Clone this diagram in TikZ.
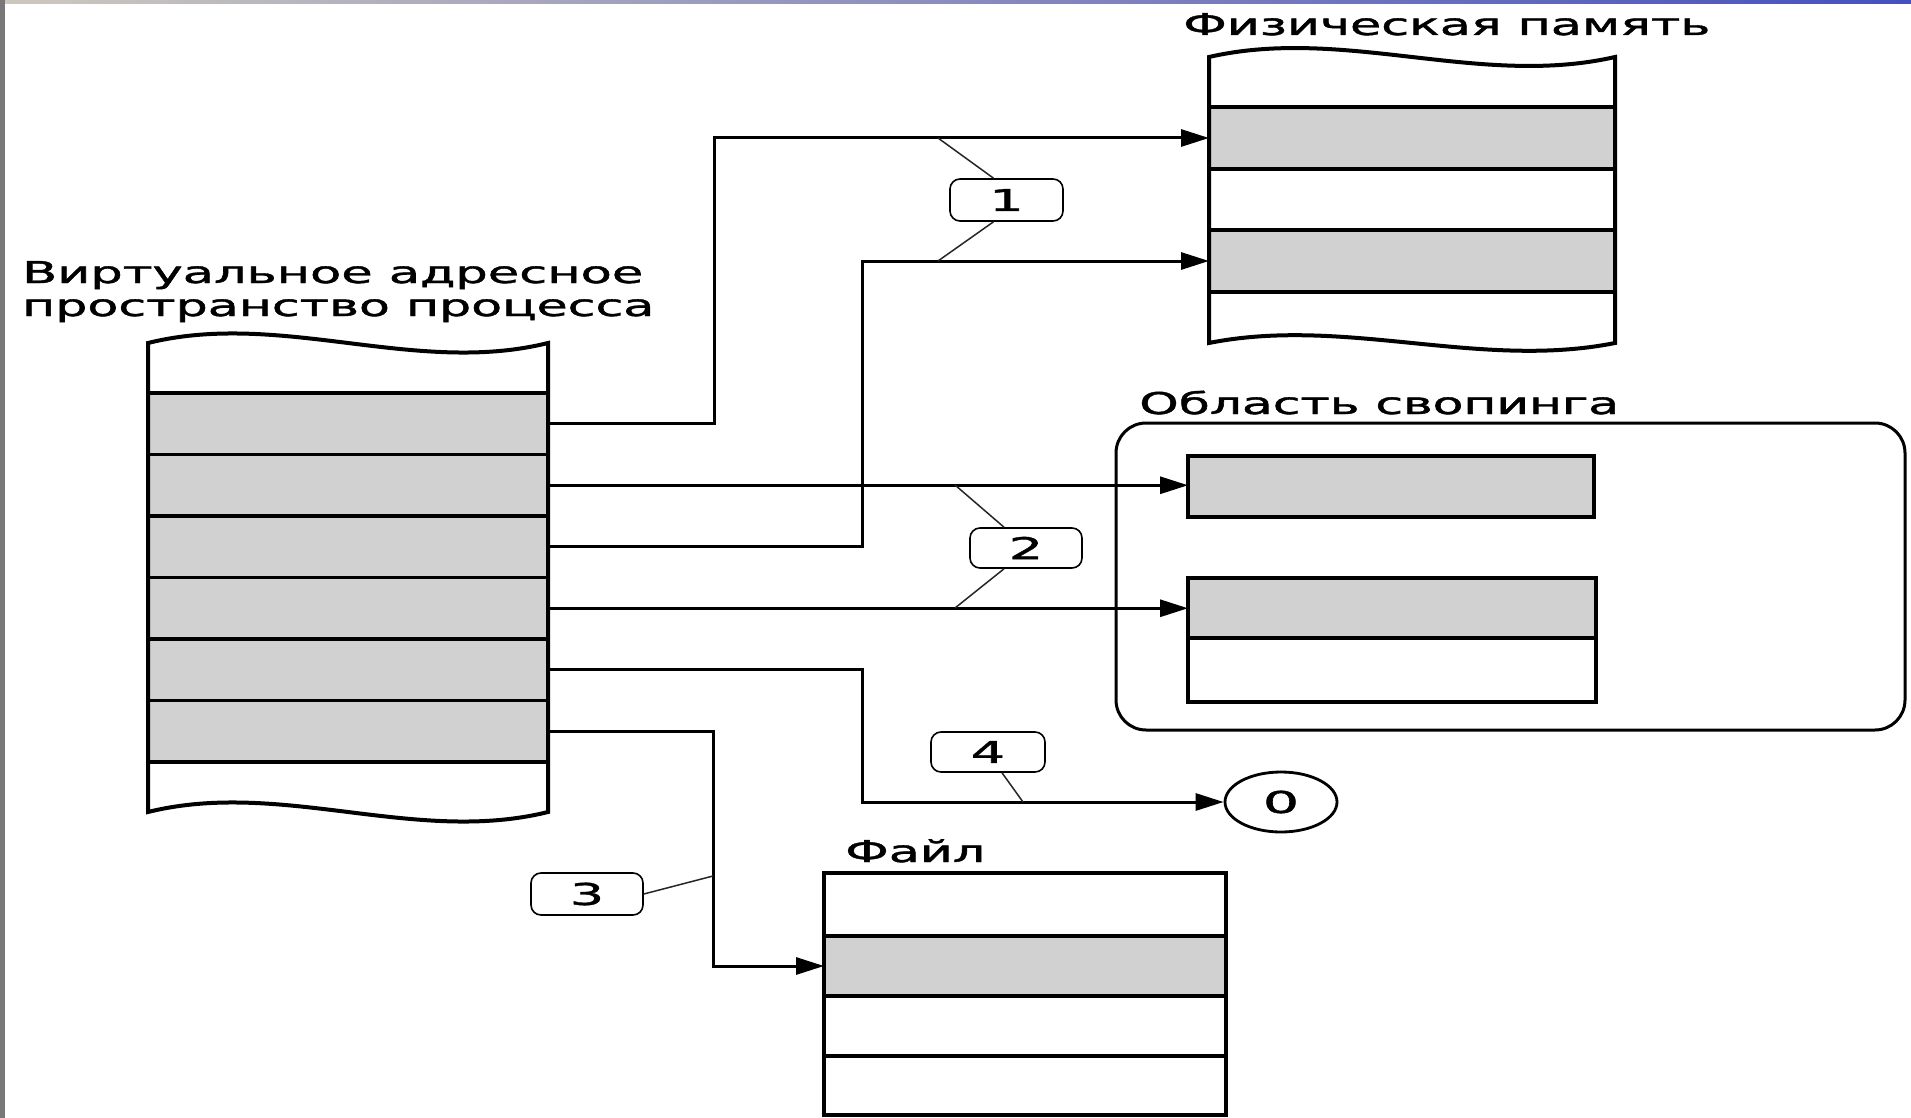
\documentclass[tikz,border=0pt]{standalone}
\usepackage{fontspec}
\setmainfont{DejaVu Sans}
\newfontfamily\lblfont{DejaVu Sans}[FakeBold=1.2,AutoFakeBold=1.2]
\usepackage{graphicx}
\usetikzlibrary{arrows.meta,shapes.geometric}
\definecolor{cellgray}{gray}{0.82}
\definecolor{barl}{RGB}{205,200,190}
\definecolor{barr}{RGB}{70,80,190}
\definecolor{stripgray}{RGB}{120,120,120}
\begin{document}
\begin{tikzpicture}[x=1pt,y=-1pt,
  colborder/.style={line width=4pt, line join=miter},
  rowcell/.style={draw, line width=3.3pt, inner sep=0pt, outer sep=0pt, anchor=north west},
  graycell/.style={rowcell, fill=cellgray},
  conn/.style={line width=3pt, -{Triangle[length=28pt,width=17pt]}},
  leader/.style={line width=1.5pt, black!85},
  numtag/.style={draw, line width=1.6pt, rounded corners=10pt, inner sep=0pt, fill=white, font=\lblfont\fontsize{30}{30}\selectfont\bfseries},
  lbl/.style={anchor=base west, inner sep=0pt, font=\lblfont\fontsize{30}{33}\selectfont\bfseries},
]
\useasboundingbox (0,0) rectangle (1911,1118);
\fill[white] (0,0) rectangle (1911,1118);
\shade[left color=barl, right color=barr] (0,0) rectangle (1911,4);
\fill[stripgray] (0,0) rectangle (5,1118);

% ---- virtual address space
\foreach \i/\y in {1/393,2/454.5,3/516,4/577.5,5/639,6/700.5}
  \node[graycell, minimum width=400pt, minimum height=61.5pt] (v\i) at (148,\y) {};
\draw[colborder] (148,343) .. controls (281.3,310) and (414.7,376) .. (548,343)
  -- (548,812) .. controls (414.7,845) and (281.3,779) .. (148,812) -- cycle;
\node[lbl] (tv1) at (22,283) {\resizebox{621pt}{\height}{Виртуальное адресное}};
\node[lbl] (tv2) at (22,316) {\resizebox{632pt}{\height}{пространство процесса}};

% ---- physical memory
\node[graycell, minimum width=406pt, minimum height=62pt] (pg1) at (1209,107) {};
\node[rowcell,  minimum width=406pt, minimum height=61pt] (pw)  at (1209,169) {};
\node[graycell, minimum width=406pt, minimum height=62pt] (pg2) at (1209,230) {};
\draw[colborder] (1209,57) .. controls (1344.3,26) and (1479.7,88) .. (1615,57)
  -- (1615,343) .. controls (1479.7,370) and (1344.3,316) .. (1209,343) -- cycle;
\node[lbl] (tp) at (1183,35) {\resizebox{527pt}{\height}{Физическая память}};

% ---- swap area
\draw[line width=3pt, rounded corners=30pt] (1116,423) rectangle (1905,730);
\node[lbl] (ts) at (1139,414) {\resizebox{480pt}{\height}{Область свопинга}};
\node[graycell, minimum width=406pt, minimum height=61pt] (s1) at (1188,456) {};
\draw[colborder] (1188,456) rectangle (1594,517);
\node[graycell, minimum width=408pt, minimum height=60pt] (s2a) at (1188,578) {};
\node[rowcell,  minimum width=408pt, minimum height=64pt] (s2b) at (1188,638) {};
\draw[colborder] (1188,578) rectangle (1596,702);

% ---- file
\node[rowcell,  minimum width=402pt, minimum height=63pt] (f1) at (824,873) {};
\node[graycell, minimum width=402pt, minimum height=60pt] (f2) at (824,936) {};
\node[rowcell,  minimum width=402pt, minimum height=60pt] (f3) at (824,996) {};
\node[rowcell,  minimum width=402pt, minimum height=59pt] (f4) at (824,1056) {};
\draw[colborder] (824,873) rectangle (1226,1115);
\node[lbl] (tf) at (845,862) {\resizebox{140pt}{\height}{Файл}};

% ---- zero
\node[ellipse, draw, line width=2.8pt, minimum width=112pt, minimum height=60pt, inner sep=0pt,
  font=\lblfont\fontsize{30}{30}\selectfont\bfseries] (zero) at (1281,802) {\scalebox{1.9}[1]{0}};

% ---- connectors
\draw[conn] (v1.east) -- ++(166,0) |- (pg1.west);
\draw[conn] (v2.east) -- (v2.east -| s1.west);
\draw[conn] (v3.east) -- ++(314,0) |- (pg2.west);
\draw[conn] (v4.east) -- (v4.east -| s2a.west);
\draw[conn] (v5.east) -- ++(314,0) |- (zero.west);
\draw[conn] (v6.east) -- ++(165,0) |- (f2.west);

% ---- number tags
\node[numtag, minimum width=113pt, minimum height=42pt] (L1) at (1006.5,200) {\scalebox{1.8}[1]{1}};
\node[numtag, minimum width=112pt, minimum height=40pt] (L2) at (1026,548) {\scalebox{1.8}[1]{2}};
\node[numtag, minimum width=112pt, minimum height=42pt] (L3) at (587,894) {\scalebox{1.8}[1]{3}};
\node[numtag, minimum width=114pt, minimum height=40pt] (L4) at (988,752) {\scalebox{1.8}[1]{4}};

\coordinate (k1a) at (938,138);
\coordinate (k1b) at (938,261);
\coordinate (k2a) at (955,485);
\coordinate (k2b) at (955,608);
\coordinate (k3) at (713,876);
\coordinate (k4) at (1023,802);
\draw[leader] ([xshift=-13pt]L1.north) -- (k1a);
\draw[leader] ([xshift=-13pt]L1.south) -- (k1b);
\draw[leader] ([xshift=-22pt]L2.north) -- (k2a);
\draw[leader] ([xshift=-22pt]L2.south) -- (k2b);
\draw[leader] (L3.east) -- (k3);
\draw[leader] ([xshift=14pt]L4.south) -- (k4);
\end{tikzpicture}
\end{document}
